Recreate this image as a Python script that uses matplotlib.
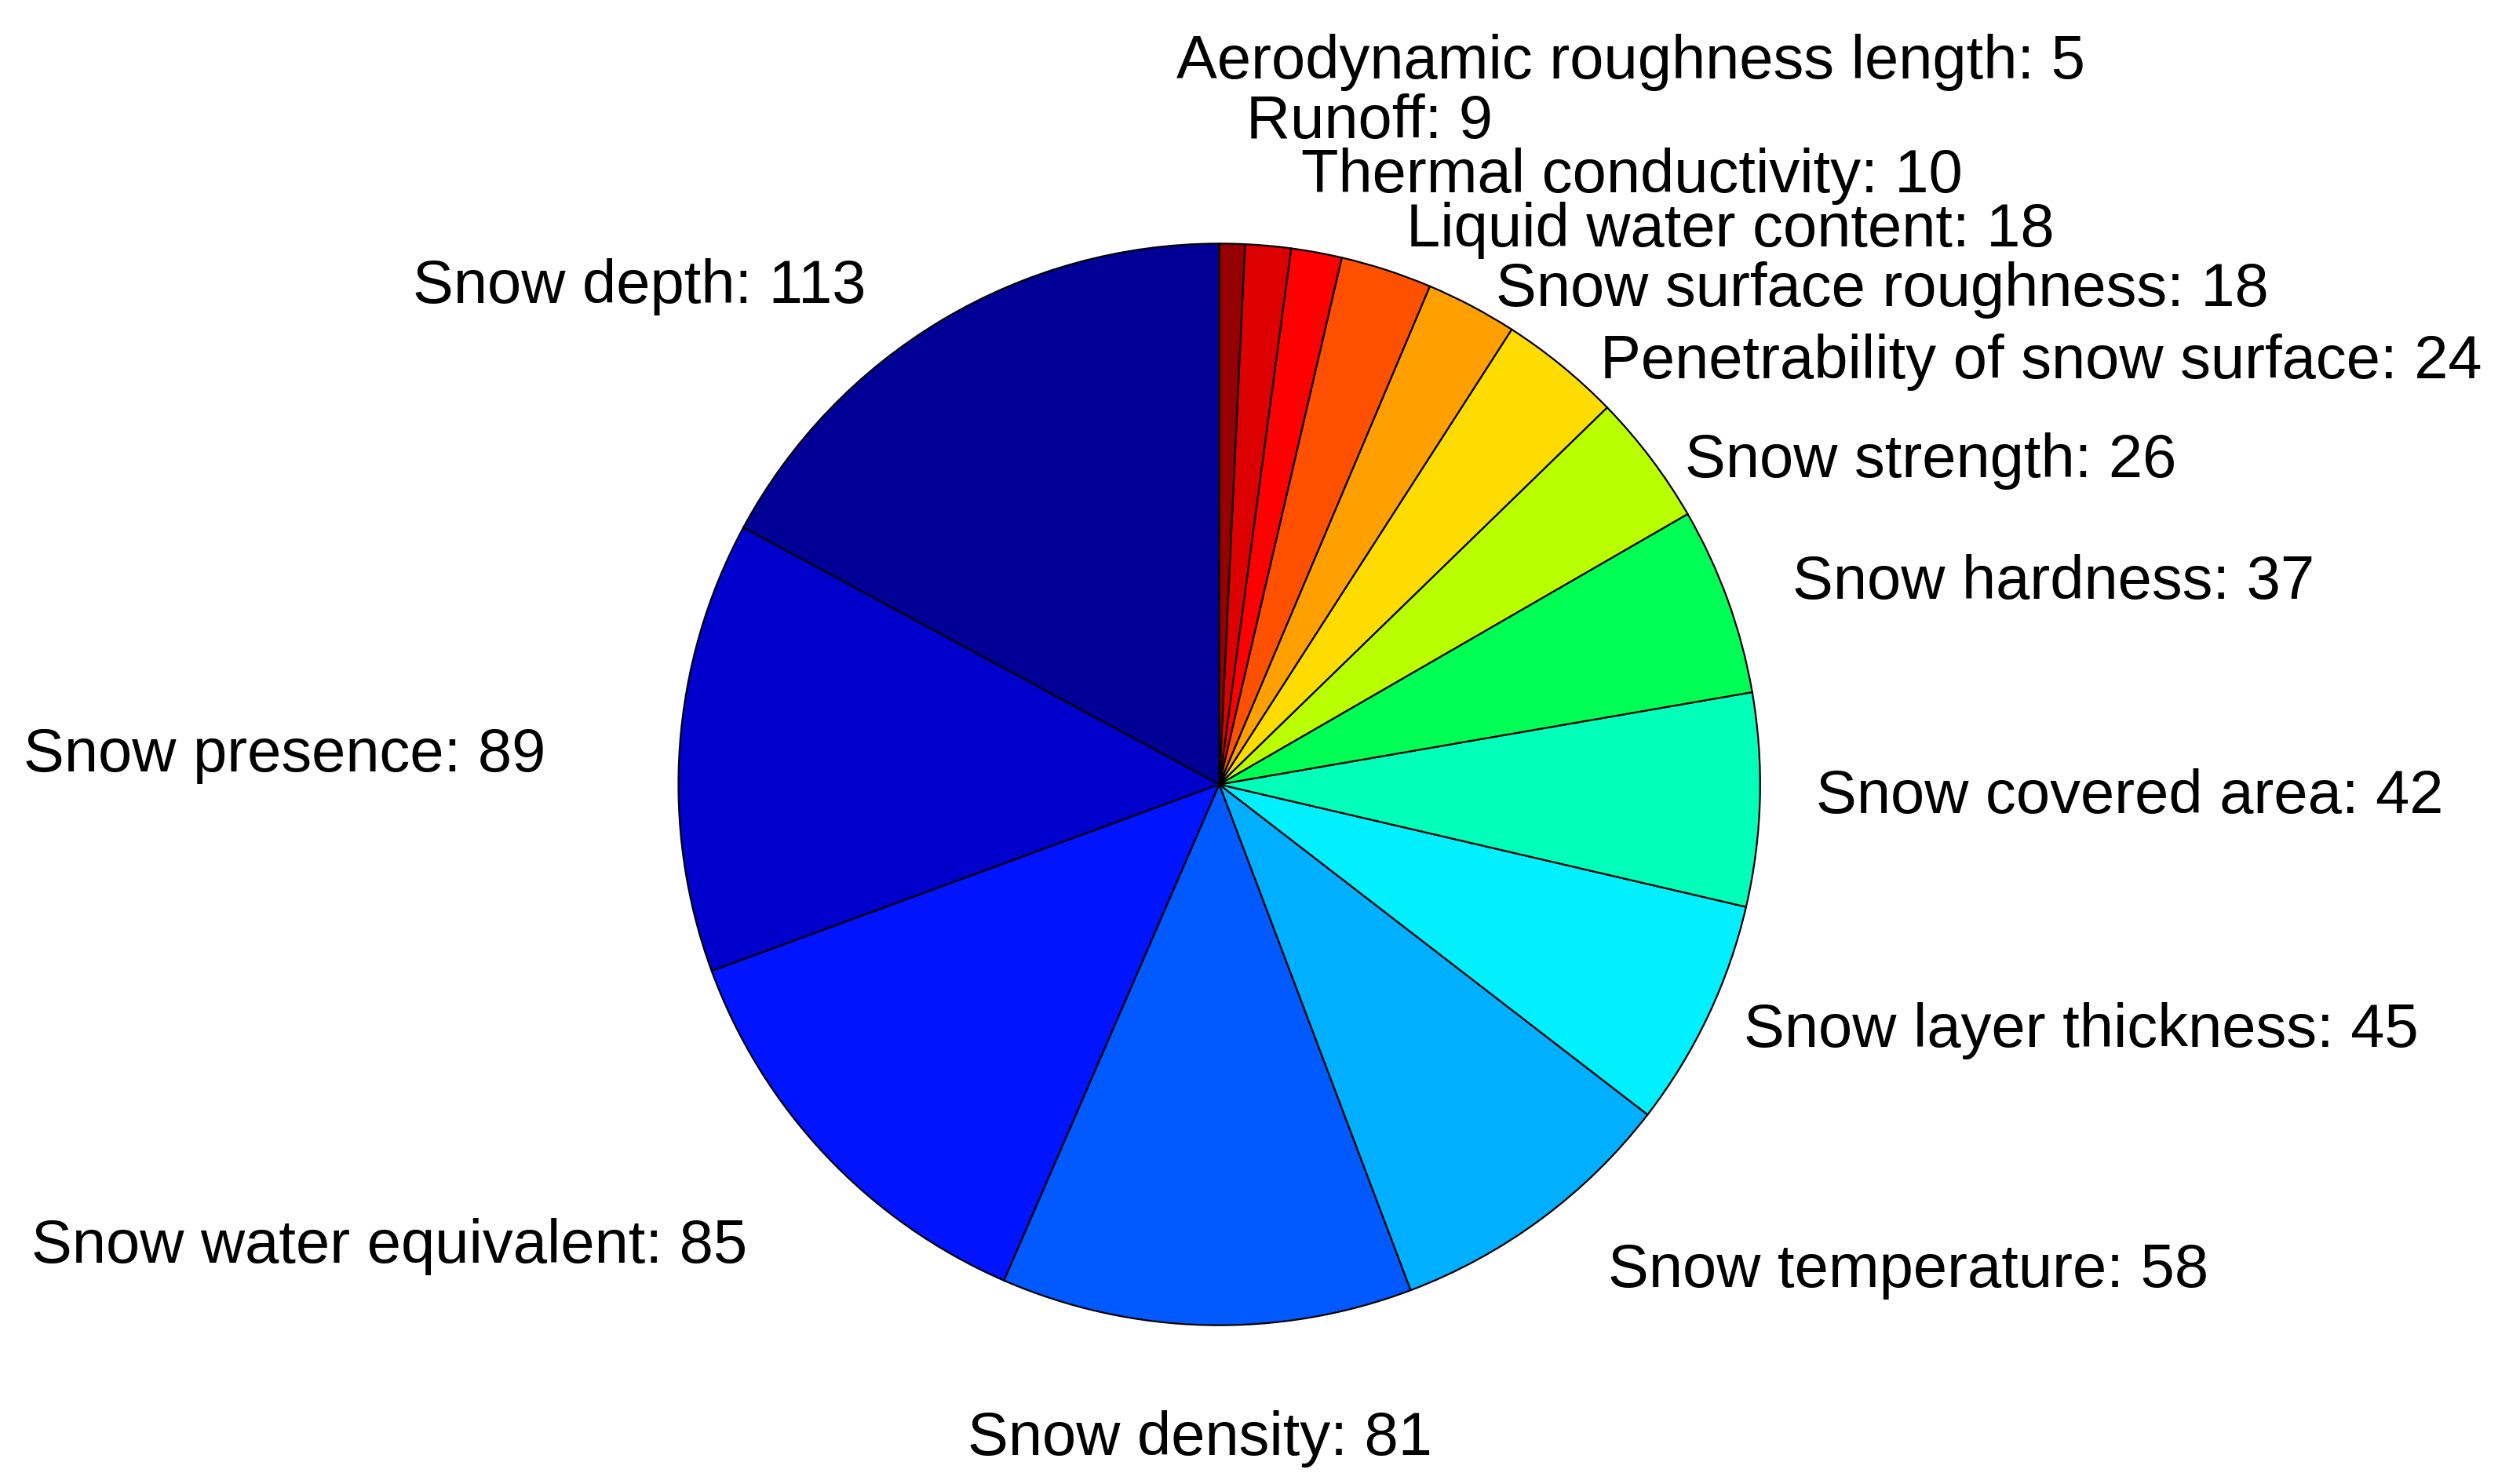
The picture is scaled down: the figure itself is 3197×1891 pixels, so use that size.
import matplotlib
matplotlib.use("Agg")
import matplotlib.pyplot as plt

# data, counter-clockwise from 12 o'clock
names = ["Snow depth", "Snow presence", "Snow water equivalent", "Snow density",
         "Snow temperature", "Snow layer thickness", "Snow covered area",
         "Snow hardness", "Snow strength", "Penetrability of snow surface",
         "Snow surface roughness", "Liquid water content", "Thermal conductivity",
         "Runoff", "Aerodynamic roughness length"]
counts = [113, 89, 85, 81, 58, 45, 42, 37, 26, 24, 18, 18, 10, 9, 5]

# jet-like slice colours as they appear in the figure
slice_colors = ["#000096", "#0000cd", "#0014ff", "#005aff", "#00afff", "#00f0ff",
                "#00ffb9", "#00ff55", "#b9ff00", "#ffdc00", "#ffa000", "#ff5000",
                "#ff0000", "#dc0000", "#960000"]

# label anchors in pixels of a 1568x927 layout (x, baseline y, alignment)
label_px = [(541, 189, "right"), (341, 482, "right"), (467, 789, "right"),
            (750, 909, "center"), (1005, 804, "left"), (1090, 654, "left"),
            (1135, 508, "left"), (1120, 374, "left"), (1053, 298, "left"),
            (1000, 236, "left"), (935, 191, "left"), (879, 154, "left"),
            (813, 120, "left"), (779, 86, "left"), (735, 49, "left")]

CX, CY, R = 762, 490, 338  # pie center / radius in the same pixel layout
W, H = 1568, 927

plt.rcParams['font.family'] = ['Liberation Sans', 'DejaVu Sans']

fig = plt.figure(figsize=(31.97, 18.91), dpi=100)
ax = fig.add_axes([0, 0, 1, 1])

ax.pie(counts, colors=slice_colors, startangle=90, counterclock=True,
       wedgeprops=dict(edgecolor="black", linewidth=1.6))

for name, c, (px, py, ha) in zip(names, counts, label_px):
    ax.text((px - CX) / R, (CY - py) / R, f"{name}: {c}", ha=ha, va="baseline",
            fontsize=56, color="black")

ax.set_xlim(-CX / R, (W - CX) / R)
ax.set_ylim(-(H - CY) / R, CY / R)
ax.set_aspect("equal")
ax.axis("off")

fig.savefig("out.png", dpi=100, facecolor="white")
plt.close()
